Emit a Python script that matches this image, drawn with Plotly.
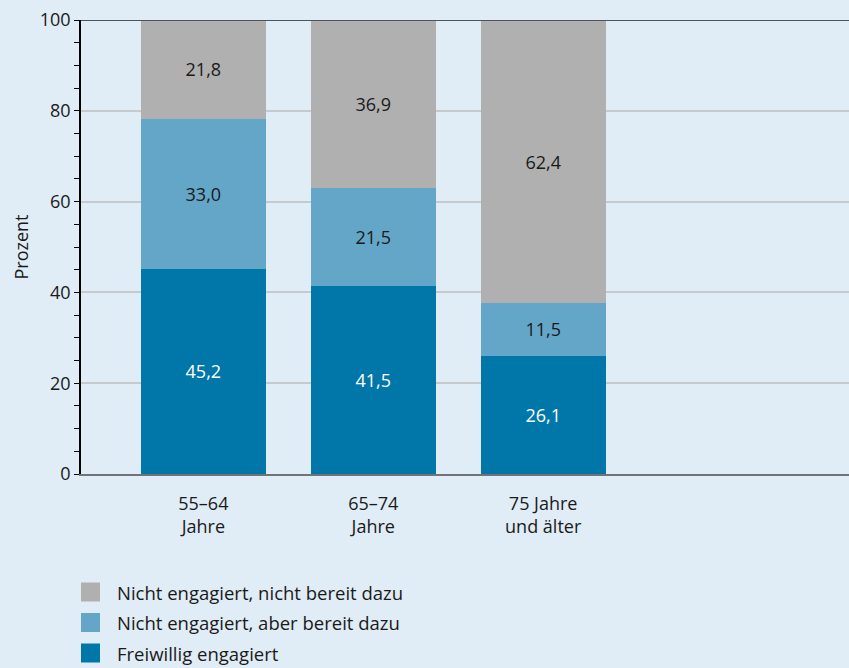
import plotly.graph_objects as go

categories = ["55–64<br>Jahre", "65–74<br>Jahre", "75 Jahre<br>und älter"]
engagiert = [45.2, 41.5, 26.1]
bereit = [33.0, 21.5, 11.5]
nicht_bereit = [21.8, 36.9, 62.4]
series_names = ["Freiwillig engagiert", "Nicht engagiert, aber bereit dazu",
                "Nicht engagiert, nicht bereit dazu"]
y_ticks = [0, 20, 40, 60, 80, 100]

colors = ["#0077a8", "#64a6c8", "#b0b0b0"]
text_colors = ["white", "#1a1a1a", "#1a1a1a"]
FONT = "Open Sans"
FS = 18
BG = "#e0ecf6"

x = list(range(len(categories)))

def fmt(v):
    return f"{v:.1f}".replace(".", ",")

fig = go.Figure()
for vals, name, col, tcol in zip([engagiert, bereit, nicht_bereit], series_names, colors, text_colors):
    fig.add_trace(go.Bar(
        x=x, y=vals, name=name, marker=dict(color=col, line=dict(width=0)),
        text=[fmt(v) for v in vals], textposition="inside", insidetextanchor="middle",
        textfont=dict(color=tcol, size=FS, family=FONT), width=0.735,
        showlegend=False, hoverinfo="skip",
    ))

fig.update_layout(
    barmode="stack",
    width=849, height=668,
    margin=dict(l=81, r=0, t=20, b=194),
    paper_bgcolor=BG, plot_bgcolor=BG,
    font=dict(family=FONT, size=FS, color="#1a1a1a"),
)
fig.update_xaxes(
    range=[-0.72, 3.8], tickmode="array", tickvals=x, ticktext=categories,
    showgrid=False, showline=True, linecolor="#707478", linewidth=2,
    ticks="", ticklabelstandoff=12, tickfont=dict(size=FS), zeroline=False,
)
fig.update_yaxes(
    range=[0, 100], tickvals=y_ticks, showgrid=True, gridcolor="#c6cacd", gridwidth=1.5,
    showline=True, linecolor="black", linewidth=1.5, ticks="outside", ticklen=5,
    tickcolor="black", tickwidth=1.2,
    minor=dict(dtick=5, ticks="outside", ticklen=5, tickcolor="black", tickwidth=1.2, showgrid=False),
    zeroline=False, title=dict(text="Prozent", font=dict(size=FS), standoff=6),
    tickfont=dict(size=FS),
)
fig.add_shape(type="line", xref="paper", yref="y", x0=0, x1=1, y0=100, y1=100,
              layer="above", line=dict(color="#505458", width=2))

# manual legend (top to bottom: gray, light blue, dark blue)
legend_rows = [(series_names[2], colors[2]), (series_names[1], colors[1]), (series_names[0], colors[0])]
plot_h = 668 - 20 - 194
plot_w = 849 - 81
for i, (name, col) in enumerate(legend_rows):
    yc = 592 + i * 30.5
    yp = (668 - 194 - yc) / plot_h
    fig.add_shape(type="rect", xref="paper", yref="paper",
                  x0=0, x1=(100 - 81) / plot_w,
                  y0=yp - 9.5 / plot_h, y1=yp + 9.5 / plot_h,
                  fillcolor=col, line=dict(width=0))
    fig.add_annotation(xref="paper", yref="paper", x=(115 - 81) / plot_w, y=yp,
                       text=name, showarrow=False, xanchor="left", yanchor="middle",
                       font=dict(size=18.5, family=FONT, color="#1a1a1a"))

fig.write_html("out.html", config={"displayModeBar": False},
               post_script="document.body.style.margin='0';document.body.style.background='%s';" % BG)
